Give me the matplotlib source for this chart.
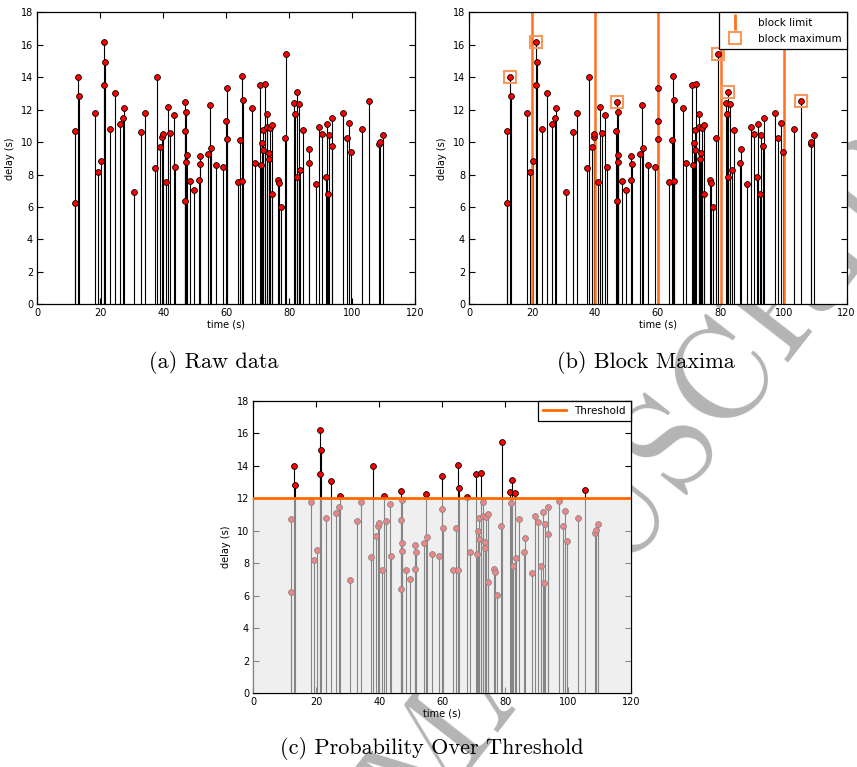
import matplotlib
matplotlib.use("Agg")
import matplotlib.pyplot as plt
from matplotlib.lines import Line2D
import numpy as np

# event times (s) and delays (s)
time = [11.85, 12.06, 12.8, 13.2, 18.2, 19.4, 20.3, 21.06, 21.3, 21.6,
        23.2, 24.66, 26.2, 27.3, 27.5, 30.7, 33.0, 34.3, 37.35, 38.0,
        39.05, 39.6, 39.8, 40.85, 41.4, 42.1, 43.3, 43.8, 46.8, 46.9,
        47.0, 47.2, 47.3, 47.4, 48.4, 49.8, 51.4, 51.5, 51.6, 54.3,
        54.9, 55.2, 56.8, 58.95, 60.1, 60.05, 60.15, 63.6, 64.35, 64.9,
        65.2, 64.95, 68.05, 69.0, 70.7, 71.0, 71.4, 71.7, 71.8, 72.2,
        73.0, 72.9, 73.5, 73.7, 74.0, 74.6, 74.65, 76.4, 76.7, 77.4,
        78.6, 79.1, 81.6, 81.8, 82.3, 82.4, 83.0, 83.4, 84.3, 86.25,
        86.1, 88.4, 89.5, 90.5, 91.5, 91.9, 92.3, 92.6, 93.5, 93.7,
        97.05, 98.3, 99.0, 99.7, 103.1, 105.4, 108.6, 108.8, 109.6]
delay = [10.7, 6.23, 14.0, 12.82, 11.79, 8.18, 8.81, 13.5, 16.17, 14.94,
         10.8, 13.03, 11.1, 11.49, 12.12, 6.94, 10.62, 11.77, 8.38, 14.0,
         9.7, 10.31, 10.5, 7.56, 12.14, 10.58, 11.67, 8.47, 10.68, 6.39,
         12.47, 11.88, 8.77, 9.22, 7.6, 7.03, 7.64, 9.12, 8.67, 9.25,
         12.29, 9.62, 8.6, 8.44, 13.36, 11.32, 10.17, 7.56, 10.15, 14.07,
         12.6, 7.58, 12.08, 8.71, 13.5, 8.59, 9.97, 10.77, 9.51, 13.58,
         11.75, 10.93, 8.96, 9.31, 10.85, 11.03, 6.82, 7.66, 7.48, 6.02,
         10.27, 15.43, 12.41, 11.73, 13.11, 7.85, 12.33, 8.3, 10.73, 9.55,
         8.69, 7.42, 10.91, 10.52, 7.85, 11.14, 6.8, 10.44, 9.78, 11.49,
         11.81, 10.27, 11.2, 9.39, 10.79, 12.53, 9.88, 10.03, 10.44]

block_limits = [20, 40, 60, 80, 100]
threshold = 12
x_ticks = [0, 20, 40, 60, 80, 100, 120]
y_ticks = [0, 2, 4, 6, 8, 10, 12, 14, 16, 18]
captions = ["(a) Raw data", "(b) Block Maxima", "(c) Probability Over Threshold"]

t = np.array(time)
d = np.array(delay)

ORANGE = "#ff7020"
ORANGE_LIGHT = "#f7995c"

W, H = 857, 767
fig = plt.figure(figsize=(W / 100, H / 100), dpi=100)


def add_ax(l, r, top, b):
    return fig.add_axes([l / W, 1 - b / H, (r - l) / W, (b - top) / H])


def style(ax):
    ax.set_xlim(0, 120)
    ax.set_ylim(0, 18)
    ax.set_xticks(x_ticks)
    ax.set_yticks(y_ticks)
    ax.tick_params(direction="in", top=True, right=True, length=4, width=0.8,
                   labelsize=7, pad=3)
    ax.set_xlabel("time (s)", fontsize=7, labelpad=1)
    ax.set_ylabel("delay (s)", fontsize=7, labelpad=4)
    for s in ax.spines.values():
        s.set_linewidth(0.9)


def stems(ax, x, y, color="black", mfc="red", mec="black", z=2):
    ax.vlines(x, 0, y, color=color, lw=0.8, zorder=z)
    ax.plot(x, y, "o", ms=4.2, mfc=mfc, mec=mec, mew=0.6, zorder=z + 1,
            linestyle="None")


ax_a = add_ax(37.3, 415.3, 12.3, 304.3)
ax_b = add_ax(469.3, 846.7, 12.3, 304.3)
ax_c = add_ax(253.3, 631, 400.7, 693.3)

# (a) raw data
stems(ax_a, t, d)
style(ax_a)

# (b) block maxima
ax_b.vlines(t, 0, d, color="black", lw=0.8, zorder=2)
for bl in block_limits:
    ax_b.axvline(bl, color=ORANGE, lw=1.8, zorder=2.5)
ax_b.plot(t, d, "o", ms=4.2, mfc="red", mec="black", mew=0.6, zorder=3,
          linestyle="None")
edges = [0] + block_limits + [120]
for lo, hi in zip(edges[:-1], edges[1:]):
    sel = (t >= lo) & (t < hi)
    if sel.any():
        i = np.argmax(np.where(sel, d, -1))
        ax_b.plot(t[i], d[i], "s", ms=9, mfc="none", mec=ORANGE_LIGHT, mew=1.5,
                  zorder=4)
style(ax_b)
h_lim = Line2D([], [], color=ORANGE, marker="|", linestyle="None", ms=11, mew=2)
h_max = Line2D([], [], color=ORANGE_LIGHT, marker="s", mfc="none",
               linestyle="None", ms=8, mew=1.5)
leg = ax_b.legend([h_lim, h_max], ["block limit", "block maximum"],
                  loc="upper right", borderaxespad=0, fontsize=7.5,
                  fancybox=False, framealpha=1, edgecolor="black",
                  handletextpad=1.2, borderpad=0.5, labelspacing=0.6)
leg.get_frame().set_linewidth(0.9)
leg.set_zorder(6)

# (c) peaks over threshold
stems(ax_c, t, d)
ax_c.axhspan(0, threshold, facecolor="#e4e4e4", alpha=0.59, lw=0, zorder=4)
ax_c.axhline(threshold, color="#ff6a00", lw=2, zorder=5, label="Threshold")
style(ax_c)
leg_c = ax_c.legend(loc="upper right", borderaxespad=0, fontsize=7.5,
                    fancybox=False, framealpha=1, edgecolor="black",
                    handlelength=2.2, borderpad=0.5)
leg_c.get_frame().set_linewidth(0.9)
leg_c.set_zorder(6)

# sub-figure captions
fig.text(214 / W, 1 - 363 / H, captions[0], family="cmr10", fontsize=16,
         ha="center", va="center")
fig.text(646 / W, 1 - 362 / H, captions[1], family="cmr10", fontsize=16,
         ha="center", va="center")
fig.text(432 / W, 1 - 748 / H, captions[2], family="cmr10", fontsize=16,
         ha="center", va="center")

# page watermark behind everything
fig.text(431 / W, 1 - 764 / H, "ACCEPTED MANUSCRIPT", family="cmr10",
         fontsize=96, color="#b4b4b4", rotation=52, rotation_mode="anchor",
         ha="center", va="center", zorder=-1)

fig.savefig("out.png", dpi=100)
